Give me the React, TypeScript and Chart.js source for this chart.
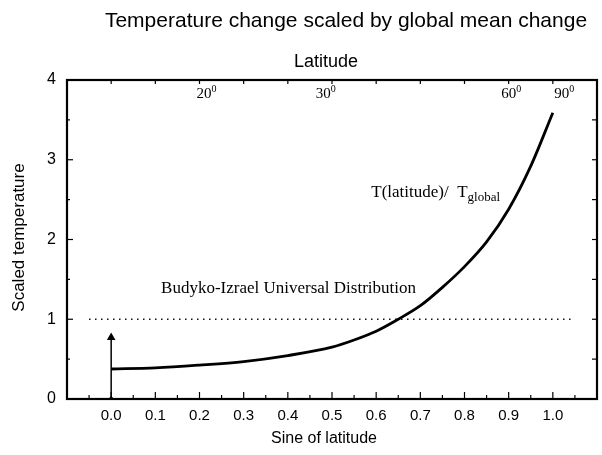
import React, { useEffect, useRef } from 'react';
import { Chart, registerables } from 'chart.js';

Chart.register(...registerables);

// ---- data ----
const sineOfLatitude = [0, 0.1, 0.2, 0.3, 0.4, 0.5, 0.55, 0.6, 0.65, 0.7, 0.75, 0.8, 0.85, 0.9, 0.95, 1.0];
const scaledTemperature = [0.376, 0.39, 0.425, 0.47, 0.545, 0.65, 0.74, 0.85, 1.0, 1.17, 1.4, 1.66, 1.97, 2.38, 2.92, 3.59];

const budykoX = [-0.05, 1.05];
const budykoY = [1, 1];

const arrowX = [0, 0];
const arrowY = [0, 0.77];

const xTickValues = [0, 0.1, 0.2, 0.3, 0.4, 0.5, 0.6, 0.7, 0.8, 0.9, 1.0];
const xMinorTicks = [-0.05, 0.05, 0.15, 0.25, 0.35, 0.45, 0.55, 0.65, 0.75, 0.85, 0.95, 1.05];
const yTickValues = [0, 1, 2, 3, 4];
const yMinorTicks = [0.5, 1.5, 2.5, 3.5];

const latitudeLabels = ['20', '30', '60', '90'];
const latitudeLabelSine = [0.21, 0.48, 0.9, 1.02];

const titleText = 'Temperature change scaled by global mean change';
const topAxisTitle = 'Latitude';
const xAxisTitle = 'Sine of latitude';
const yAxisTitle = 'Scaled temperature';
const budykoLabel = 'Budyko-Izrael Universal Distribution';
const ratioLabelMain = 'T(latitude)/';
const ratioLabelT = 'T';
const ratioLabelSub = 'global';

const SANS = '"Liberation Sans", Arial, sans-serif';
const SERIF = '"Liberation Serif", "Times New Roman", serif';

const framePlugin = {
  id: 'frameAndText',
  afterDraw(chart: any) {
    const ctx = chart.ctx as CanvasRenderingContext2D;
    const { left, right, top, bottom } = chart.chartArea;
    const xs = chart.scales.x;
    const ys = chart.scales.y;
    ctx.save();
    ctx.strokeStyle = '#000';
    ctx.fillStyle = '#000';

    // frame
    ctx.lineWidth = 2.2;
    ctx.strokeRect(left, top, right - left, bottom - top);

    // ticks
    ctx.lineWidth = 1.2;
    const line = (x1: number, y1: number, x2: number, y2: number) => {
      ctx.beginPath();
      ctx.moveTo(x1, y1);
      ctx.lineTo(x2, y2);
      ctx.stroke();
    };
    xTickValues.forEach((v) => {
      const px = xs.getPixelForValue(v);
      line(px, bottom, px, bottom - 7);
      line(px, top, px, top + 4);
    });
    xMinorTicks.forEach((v) => {
      const px = xs.getPixelForValue(v);
      line(px, bottom, px, bottom - 4);
    });
    yTickValues.forEach((v) => {
      const py = ys.getPixelForValue(v);
      line(left, py, left + 6, py);
      line(right, py, right - 5, py);
    });
    yMinorTicks.forEach((v) => {
      const py = ys.getPixelForValue(v);
      line(left, py, left + 3, py);
      line(right, py, right - 5, py);
    });

    // top latitude labels
    latitudeLabels.forEach((lab, i) => {
      const px = xs.getPixelForValue(latitudeLabelSine[i]);
      ctx.font = `15px ${SERIF}`;
      ctx.textAlign = 'center';
      ctx.textBaseline = 'alphabetic';
      ctx.fillText(lab, px, top + 18);
      const w = ctx.measureText(lab).width;
      ctx.font = `10px ${SERIF}`;
      ctx.textAlign = 'left';
      ctx.fillText('0', px + w / 2, top + 12);
    });

    // titles
    ctx.textAlign = 'center';
    ctx.textBaseline = 'alphabetic';
    ctx.font = `21px ${SANS}`;
    ctx.fillText(titleText, 346, 27);
    ctx.font = `18px ${SANS}`;
    ctx.fillText(topAxisTitle, (left + right) / 2 - 6, top - 13);
    ctx.font = `16px ${SANS}`;
    ctx.fillText(xAxisTitle, (left + right) / 2 - 8, bottom + 44);
    ctx.save();
    ctx.translate(24, (top + bottom) / 2 - 2);
    ctx.rotate(-Math.PI / 2);
    ctx.font = `17px ${SANS}`;
    ctx.fillText(yAxisTitle, 0, 0);
    ctx.restore();

    // annotations
    ctx.textAlign = 'left';
    ctx.font = `17px ${SERIF}`;
    ctx.fillText(budykoLabel, xs.getPixelForValue(0.113), ys.getPixelForValue(1.33));
    const rx = xs.getPixelForValue(0.589);
    const ry = ys.getPixelForValue(2.53);
    ctx.fillText(ratioLabelMain, rx, ry);
    const w1 = ctx.measureText(ratioLabelMain + '  ').width;
    ctx.fillText(ratioLabelT, rx + w1, ry);
    const w2 = ctx.measureText(ratioLabelT).width;
    ctx.font = `13px ${SERIF}`;
    ctx.fillText(ratioLabelSub, rx + w1 + w2, ry + 4);

    ctx.restore();
  },
};

export default function App() {
  const ref = useRef<HTMLCanvasElement | null>(null);
  useEffect(() => {
    if (!ref.current) return;
    const chart = new Chart(ref.current, {
      type: 'scatter',
      data: {
        datasets: [
          {
            data: sineOfLatitude.map((x, i) => ({ x, y: scaledTemperature[i] })),
            showLine: true,
            borderColor: '#000',
            borderWidth: 2.8,
            pointRadius: 0,
            cubicInterpolationMode: 'monotone',
          },
          {
            data: budykoX.map((x, i) => ({ x, y: budykoY[i] })),
            showLine: true,
            borderColor: '#000',
            borderWidth: 1.4,
            borderDash: [1.4, 4.6],
            pointRadius: 0,
          },
          {
            data: arrowX.map((x, i) => ({ x, y: arrowY[i] })),
            showLine: true,
            borderColor: '#000',
            borderWidth: 1.5,
            pointStyle: ['rectRot', 'triangle'] as any,
            pointRadius: [3, 5] as any,
            pointBackgroundColor: '#000',
            pointBorderColor: '#000',
            pointBorderWidth: 0,
          },
        ],
      },
      options: {
        animation: false,
        responsive: true,
        maintainAspectRatio: false,
        layout: { padding: { top: 80, right: 2, left: 0, bottom: 0 } },
        plugins: { legend: { display: false }, tooltip: { enabled: false }, title: { display: false } },
        scales: {
          x: {
            type: 'linear',
            min: -0.1,
            max: 1.1,
            afterBuildTicks: (s: any) => {
              s.ticks = xTickValues.map((v) => ({ value: v }));
            },
            afterFit: (s: any) => {
              s.height = 56;
            },
            ticks: {
              callback: (v: any) => Number(v).toFixed(1),
              font: { family: SANS, size: 15 },
              color: '#000',
              padding: 8,
              maxRotation: 0,
              autoSkip: false,
            },
            grid: { display: false, drawTicks: false },
            border: { display: false },
          },
          y: {
            type: 'linear',
            min: 0,
            max: 4,
            afterBuildTicks: (s: any) => {
              s.ticks = yTickValues.map((v) => ({ value: v }));
            },
            afterFit: (s: any) => {
              s.width = 67;
            },
            ticks: {
              callback: (v: any) => String(v),
              font: { family: SANS, size: 16 },
              color: '#000',
              padding: 11,
            },
            grid: { display: false, drawTicks: false },
            border: { display: false },
          },
        },
      } as any,
      plugins: [framePlugin],
    });
    return () => chart.destroy();
  }, []);
  return (
    <div style={{ position: 'absolute', left: 0, top: 0, width: 602, height: 455, background: '#fff' }}>
      <canvas ref={ref} />
    </div>
  );
}
